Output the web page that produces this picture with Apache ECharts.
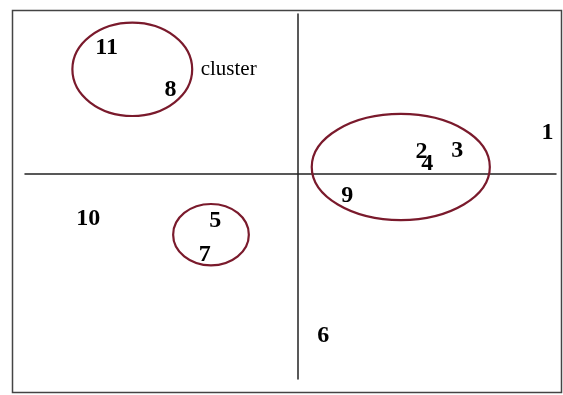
<!DOCTYPE html>
<html>
<head>
<meta charset="utf-8">
<script src="https://cdn.jsdelivr.net/npm/echarts@6/dist/echarts.min.js"></script>
<style>
  html, body { margin: 0; padding: 0; background: #fff; }
  #chart { width: 563px; height: 395px; }
</style>
</head>
<body>
<div id="chart"></div>
<script>
// point labels and their positions (arbitrary units, origin at the cross)
const pointNames = ['1', '2', '3', '4', '5', '6', '7', '8', '9', '10', '11'];
const pointX = [9.19, 4.56, 5.87, 4.77, -3.01, 0.95, -3.40, -4.66, 1.83, -7.68, -7.00];
const pointY = [2.06, 1.16, 1.20, 0.55, -2.21, -7.78, -3.86, 4.16, -1.00, -2.11, 6.20];

// clusters drawn as ellipses: centre x, centre y, radius x, radius y
const clusterCx = [-6.06, 3.80, -3.17];
const clusterCy = [5.06, 0.31, -2.98];
const clusterRx = [2.20, 3.27, 1.39];
const clusterRy = [2.27, 2.58, 1.49];

const noteText = ['cluster'];
const noteX = [-2.52];
const noteY = [5.12];

const chart = echarts.init(document.getElementById('chart'));

const pointData = pointNames.map((n, i) => ({ name: n, value: [pointX[i], pointY[i]] }));
const clusterData = clusterCx.map((c, i) => [c, clusterCy[i], clusterRx[i], clusterRy[i]]);
const noteData = noteText.map((t, i) => ({ name: t, value: [noteX[i], noteY[i]] }));

const option = {
  animation: false,
  backgroundColor: '#fff',
  graphic: [{
    type: 'rect',
    shape: { x: 12.5, y: 10.5, width: 549, height: 382 },
    style: { fill: 'none', stroke: '#444', lineWidth: 1.5 },
    z: 0
  }],
  grid: { left: 25, right: 7, top: 14, bottom: 16 },
  xAxis: {
    type: 'value',
    min: -10,
    max: 9.5,
    axisLine: { onZero: true, lineStyle: { color: '#222', width: 1.5 } },
    axisTick: { show: false },
    axisLabel: { show: false },
    splitLine: { show: false }
  },
  yAxis: {
    type: 'value',
    min: -10,
    max: 7.75,
    axisLine: { onZero: true, lineStyle: { color: '#222', width: 1.5 } },
    axisTick: { show: false },
    axisLabel: { show: false },
    splitLine: { show: false }
  },
  series: [{
    type: 'custom',
    data: clusterData,
    renderItem: (params, api) => {
      const c = api.coord([api.value(0), api.value(1)]);
      const s = api.size([api.value(2), api.value(3)]);
      return {
        type: 'ellipse',
        shape: { cx: c[0], cy: c[1], rx: s[0], ry: s[1] },
        style: { fill: 'none', stroke: '#7a1a2c', lineWidth: 2.2 }
      };
    },
    z: 2
  }, {
    type: 'scatter',
    data: pointData,
    symbolSize: 1,
    itemStyle: { color: 'transparent' },
    label: {
      show: true,
      position: 'inside',
      offset: [0, 2],
      formatter: '{b}',
      color: '#000',
      opacity: 1,
      textBorderWidth: 0,
      fontFamily: 'Liberation Serif',
      fontWeight: 'bold',
      fontSize: 24
    },
    z: 3
  }, {
    type: 'scatter',
    data: noteData,
    symbolSize: 1,
    itemStyle: { color: 'transparent' },
    label: {
      show: true,
      position: 'inside',
      offset: [0, 1],
      formatter: '{b}',
      color: '#000',
      opacity: 1,
      textBorderWidth: 0,
      fontFamily: 'Liberation Serif',
      fontSize: 21
    },
    z: 3
  }]
};

chart.setOption(option);
</script>
</body>
</html>
